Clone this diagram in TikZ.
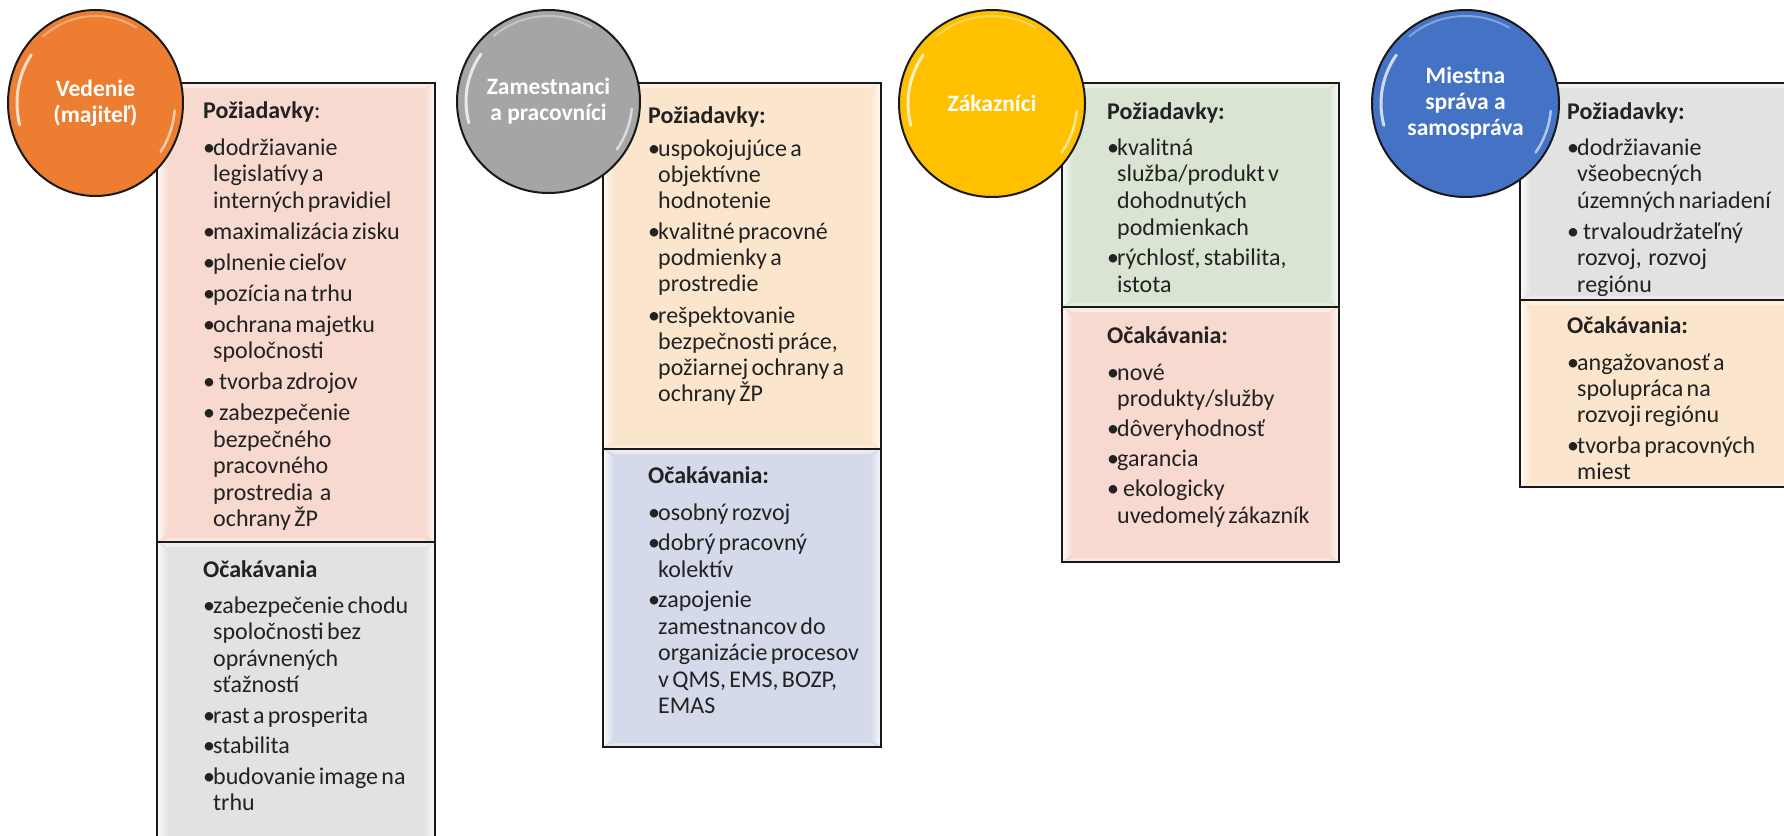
\documentclass[tikz,border=0pt]{standalone}
\usepackage{fontspec}
\setmainfont{Carlito}
\usetikzlibrary{shapes.geometric}
\definecolor{corange}{HTML}{ED7D31}
\definecolor{cgray}{HTML}{A5A5A5}
\definecolor{cgold}{HTML}{FFC000}
\definecolor{cblue}{HTML}{4472C4}
\definecolor{fpink}{HTML}{F7D9D0}
\definecolor{fgray}{HTML}{E2E2E2}
\definecolor{fpeach}{HTML}{FCE5CD}
\definecolor{fblue}{HTML}{D5DAEA}
\definecolor{fgreen}{HTML}{D9E4D3}
\definecolor{txtc}{HTML}{222222}
\newcommand{\setbody}[2]{\fontsize{24}{#1}\selectfont\setlength{\parskip}{#2pt}\raggedright}
\newcommand{\hd}[2]{\noindent#1\par\vspace{#2pt}}
\newcommand{\bi}[1]{\par\hangindent=10pt\hangafter=1\noindent\makebox[10pt][l]{•}#1}
\newcommand{\bsp}{\hspace*{6pt}}
\newcommand{\bevbox}[5]{%
  \fill[#5] (#1,#2) rectangle (#3,#4);
  \shade[left color=white!85!#5, right color=#5] (#1,#2) -- (#1+11,#2+9) -- (#1+11,#4-9) -- (#1,#4) -- cycle;
  \fill[white,opacity=0.45] (#1,#2) -- (#3,#2) -- (#3-11,#2+5) -- (#1+11,#2+5) -- cycle;
  \shade[left color=#5, right color=white!80!#5] (#3,#2) -- (#3,#4) -- (#3-11,#4-9) -- (#3-11,#2+9) -- cycle;
  \fill[white,opacity=0.3] (#1,#4) -- (#3,#4) -- (#3-11,#4-4) -- (#1+11,#4-4) -- cycle;
  \draw[boxline] (#1,#2) rectangle (#3,#4);
}
\newcommand{\gloss}[4]{%
  \draw[white,opacity=0.75,line width=3pt,line cap=round]
    ({#1+(#3-9)*cos(165)},{#2+(#4-9)*sin(165)}) arc[start angle=165,end angle=215,x radius=#3-9,y radius=#4-9];
  \draw[white,opacity=0.6,line width=2.5pt,line cap=round]
    ({#1+(#3-8)*cos(5)},{#2+(#4-8)*sin(5)}) arc[start angle=5,end angle=35,x radius=#3-8,y radius=#4-8];
  \draw[white,opacity=0.35,line width=2pt,line cap=round]
    ({#1+(#3-6)*cos(230)},{#2+(#4-6)*sin(230)}) arc[start angle=230,end angle=300,x radius=#3-6,y radius=#4-6];
}
\begin{document}
\begin{tikzpicture}[x=1pt,y=-1pt,
  boxline/.style={draw=black!90,line width=2pt},
  circ/.style={ellipse,draw=black!90,line width=2pt,inner sep=0pt,text=white,align=center,
    font=\fontsize{23.5}{26}\selectfont\bfseries},
  txt/.style={anchor=base west,inner sep=0pt,text width=320pt,align=left,text=txtc}]
\useasboundingbox (0,0) rectangle (1784,835);
\fill[white] (0,0) rectangle (1784,835);

% boxes
\bevbox{157}{83}{435}{542}{fpink}
\bevbox{157}{542}{435}{850}{fgray}
\bevbox{603}{83}{881}{449}{fpeach}
\bevbox{603}{449}{881}{747}{fblue}
\bevbox{1062}{83}{1339}{307}{fgreen}
\bevbox{1062}{307}{1339}{562}{fpink}
\bevbox{1520}{83}{1800}{300}{fgray}
\bevbox{1520}{300}{1800}{487}{fpeach}

% texts
\node[txt] (t1a) at (203,118) {\setbody{26.5}{4.5}%
\hd{\textbf{Požiadavky}:}{6}%
\bi{dodržiavanie\newline legislatívy a\newline interných pravidiel}%
\bi{maximalizácia zisku}%
\bi{plnenie cieľov}%
\bi{pozícia na trhu}%
\bi{ochrana majetku\newline spoločnosti}%
\bi{\bsp tvorba zdrojov}%
\bi{\bsp zabezpečenie\newline bezpečného\newline pracovného\newline prostredia~ a\newline ochrany ŽP}\par};

\node[txt] (t1b) at (203,577) {\setbody{26.5}{4}%
\hd{\textbf{Očakávania}}{5.5}%
\bi{zabezpečenie chodu\newline spoločnosti bez\newline oprávnených\newline sťažností}%
\bi{rast a prosperita}%
\bi{stabilita}%
\bi{budovanie image na\newline trhu}\par};

\node[txt] (t2a) at (648,123) {\setbody{26}{5.5}%
\hd{\textbf{Požiadavky:}}{1.5}%
\bi{uspokojujúce a\newline objektívne\newline hodnotenie}%
\bi{kvalitné pracovné\newline podmienky a\newline prostredie}%
\bi{rešpektovanie\newline bezpečnosti práce,\newline požiarnej ochrany a\newline ochrany ŽP}\par};

\node[txt] (t2b) at (648,483) {\setbody{26.4}{4.3}%
\hd{\textbf{Očakávania:}}{6.3}%
\bi{osobný rozvoj}%
\bi{dobrý pracovný\newline kolektív}%
\bi{zapojenie\newline zamestnancov do\newline organizácie procesov\newline v QMS, EMS, BOZP,\newline EMAS}\par};

\node[txt] (t3a) at (1107,119) {\setbody{26.7}{3.5}%
\hd{\textbf{Požiadavky:}}{5.8}%
\bi{kvalitná\newline služba/produkt v\newline dohodnutých\newline podmienkach}%
\bi{rýchlosť, stabilita,\newline istota}\par};

\node[txt] (t3b) at (1107,343) {\setbody{26.5}{3.5}%
\hd{\textbf{Očakávania:}}{7}%
\bi{nové\newline produkty/služby}%
\bi{dôveryhodnosť}%
\bi{garancia}%
\bi{\bsp ekologicky\newline uvedomelý zákazník}\par};

\node[txt] (t4a) at (1567,119) {\setbody{26.5}{4.5}%
\hd{\textbf{Požiadavky:}}{5}%
\bi{dodržiavanie\newline všeobecných\newline územných nariadení}%
\bi{\bsp trvaloudržateľný\newline rozvoj,~ rozvoj\newline regiónu}\par};

\node[txt] (t4b) at (1567,333) {\setbody{26}{5}%
\hd{\textbf{Očakávania:}}{6}%
\bi{angažovanosť a\newline spolupráca na\newline rozvoji regiónu}%
\bi{tvorba pracovných\newline miest}\par};

% circles
\node[circ,fill=corange,minimum width=175pt,minimum height=186pt] (c1) at (95.5,103) {Vedenie\\(majiteľ)};
\gloss{95.5}{103}{87.5}{93}
\node[circ,fill=cgray,minimum width=183pt,minimum height=183pt] (c2) at (548.5,101.5) {Zamestnanci\\a pracovníci};
\gloss{548.5}{101.5}{91.5}{91.5}
\node[circ,fill=cgold,minimum width=186pt,minimum height=187pt] (c3) at (992,103.5) {Zákazníci};
\gloss{992}{103.5}{93}{93.5}
\node[circ,fill=cblue,minimum width=187pt,minimum height=187pt] (c4) at (1465.5,103.5) {Miestna\\správa a\\samospráva};
\gloss{1465.5}{103.5}{93.5}{93.5}
\end{tikzpicture}
\end{document}
